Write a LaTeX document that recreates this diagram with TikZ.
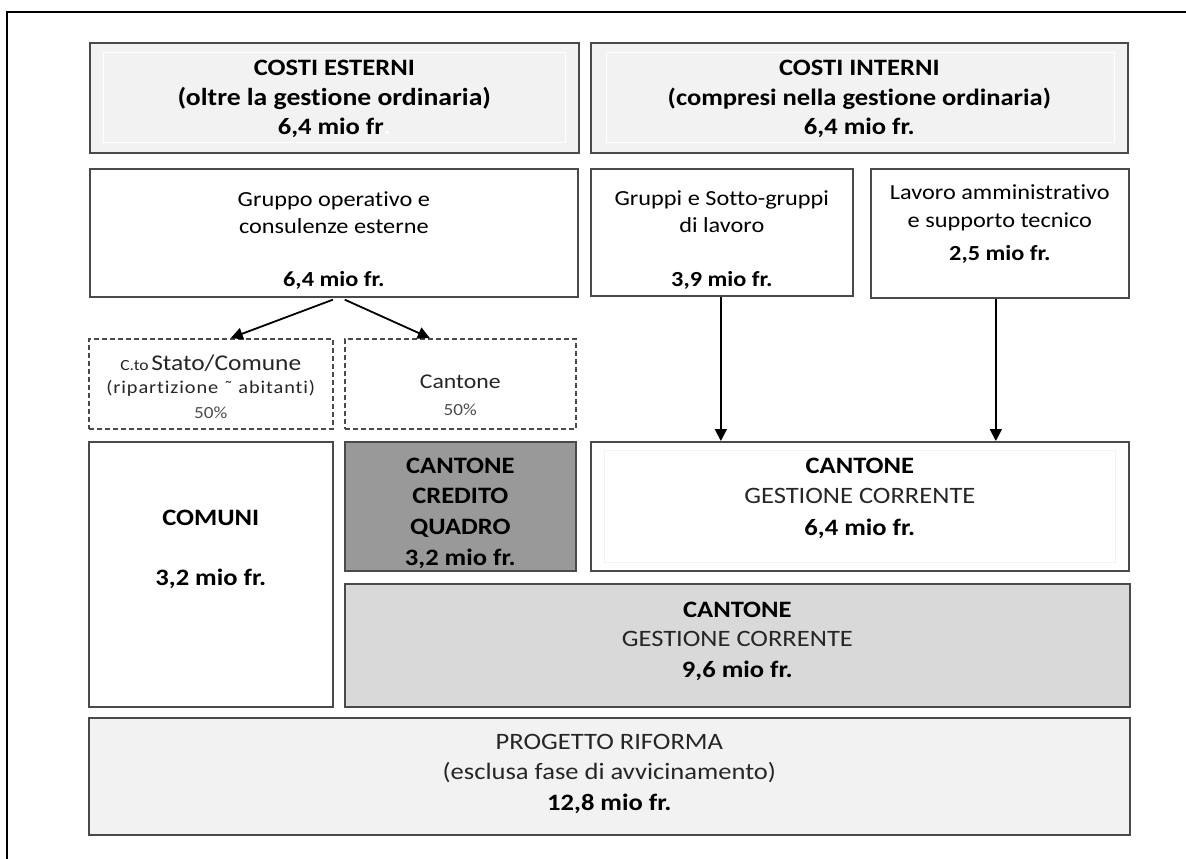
\documentclass[tikz,border=0pt]{standalone}
\usepackage{fontspec}
\setmainfont{Carlito}[FakeStretch=1.13, Ligatures=NoCommon]
\usetikzlibrary{arrows.meta}

\definecolor{edge}{HTML}{4A4A4A}
\definecolor{paleFill}{HTML}{F2F2F2}
\definecolor{midFill}{HTML}{D9D9D9}
\definecolor{darkFill}{HTML}{999999}
\definecolor{softText}{HTML}{262626}
\definecolor{greyText}{HTML}{4D4D4D}

\tikzset{
  box/.style={draw=edge, line width=1.7pt, anchor=north west, inner sep=0pt},
  dbox/.style={box, line width=1.6pt, dash pattern=on 5pt off 3pt},
  inset/.style={line width=1pt},
  tl/.style={anchor=base, inner sep=0pt, outer sep=0pt},
  hb/.style={tl, font=\fontsize{23.5}{28}\selectfont\bfseries},
  hr/.style={tl, font=\fontsize{23.5}{28}\selectfont, text=softText},
  mr/.style={tl, font=\fontsize{21.5}{26}\selectfont},
  mb/.style={tl, font=\fontsize{21.5}{26}\selectfont\bfseries},
  sr/.style={tl, font=\fontsize{17}{20}\selectfont, text=greyText},
  arr/.style={line width=1.8pt, -{Triangle[width=12pt,length=12pt]}},
}

\begin{document}
\begin{tikzpicture}[x=1pt,y=-1pt]
\useasboundingbox (0,0) rectangle (1186,859);

% open page frame
\draw[line width=2.2pt] (7,859) -- (7,12) -- (1186,12);

% ---- boxes ----
\node[box, fill=paleFill, minimum width=489pt, minimum height=110pt] (ce) at (89,42) {};
\node[box, fill=paleFill, minimum width=537pt, minimum height=110pt] (ci) at (590,42) {};
\node[box, fill=white, minimum width=488pt, minimum height=128pt] (gop) at (89,168) {};
\node[box, fill=white, minimum width=262pt, minimum height=127pt] (gs) at (590,168) {};
\node[box, fill=white, minimum width=258pt, minimum height=129pt] (la) at (870,168) {};
\node[dbox, fill=white, minimum width=244pt, minimum height=90pt] (cto) at (88,338) {};
\node[dbox, fill=white, minimum width=231pt, minimum height=90pt] (c50) at (344,338) {};
\node[box, fill=white, minimum width=244pt, minimum height=265pt] (com) at (88,441) {};
\node[box, fill=darkFill, minimum width=231pt, minimum height=129pt] (ccq) at (344,441) {};
\node[box, fill=white, minimum width=538pt, minimum height=129pt] (cg64) at (590,441) {};
\node[box, fill=midFill, minimum width=785pt, minimum height=123pt] (cg96) at (344,583) {};
\node[box, fill=paleFill, minimum width=1041pt, minimum height=117pt] (pr) at (88,717) {};

% faint inner frames
\draw[inset, white] ([shift={(14,11)}]ce.north west) rectangle ([shift={(-14,-11)}]ce.south east);
\draw[inset, white] ([shift={(16,11)}]ci.north west) rectangle ([shift={(-14,-11)}]ci.south east);
\draw[inset, draw=paleFill] ([shift={(14,9)}]cg64.north west) rectangle ([shift={(-14,-9)}]cg64.south east);

% ---- texts ----
\node[hb] (ce1) at (ce.center |- 0,75) {COSTI ESTERNI};
\node[hb, font=\fontsize{24.5}{28}\selectfont\bfseries] (ce2) at (ce.center |- 0,105) {(oltre la gestione ordinaria)};
\node[hb] (ce3) at (ce.center |- 0,134) {6,4 mio fr\textcolor{white}{.}};

\node[hb] (ci1) at (ci.center |- 0,75) {COSTI INTERNI};
\node[hb] (ci2) at (ci.center |- 0,105) {(compresi nella gestione ordinaria)};
\node[hb] (ci3) at (ci.center |- 0,134) {6,4 mio fr.};

\node[mr] (gop1) at (gop.center |- 0,206) {Gruppo operativo e};
\node[mr] (gop2) at (gop.center |- 0,233) {consulenze esterne};
\node[mb] (gop3) at (gop.center |- 0,286) {6,4 mio fr.};

\node[mr] (gs1) at (gs.center |- 0,205) {Gruppi e Sotto-gruppi};
\node[mr] (gs2) at (gs.center |- 0,232) {di lavoro};
\node[mb] (gs3) at (gs.center |- 0,286) {3,9 mio fr.};

\node[mr] (la1) at (la.center |- 0,199) {Lavoro amministrativo};
\node[mr] (la2) at (la.center |- 0,227) {e supporto tecnico};
\node[mb] (la3) at (la.center |- 0,260) {2,5 mio fr.};

\node[tl, text=softText] (cto1) at (cto.center |- 0,370)
  {{\fontsize{15.5}{18}\selectfont C.to} {\fontsize{22.5}{24}\selectfont Stato/Comune}};
\node[tl, text=softText, font=\fontsize{18}{21}\selectfont\addfontfeatures{LetterSpace=5}] (cto2)
  at (cto.center |- 0,393) {(ripartizione ˜ abitanti)};
\node[sr] (cto3) at (cto.center |- 0,418) {50\%};

\node[tl, text=softText, font=\fontsize{21}{24}\selectfont] (c501) at (c50.center |- 0,388) {Cantone};
\node[sr] (c502) at (c50.center |- 0,415) {50\%};

\node[hb] (com1) at (com.center |- 0,525) {COMUNI};
\node[hb] (com2) at (com.center |- 0,585) {3,2 mio fr.};

\node[hb] (ccq1) at (ccq.center |- 0,473) {CANTONE};
\node[hb] (ccq2) at (ccq.center |- 0,503) {CREDITO};
\node[hb] (ccq3) at (ccq.center |- 0,534) {QUADRO};
\node[hb] (ccq4) at (ccq.center |- 0,565) {3,2 mio fr.};

\node[hb] (cg641) at (cg64.center |- 0,473) {CANTONE};
\node[hr] (cg642) at (cg64.center |- 0,503) {GESTIONE CORRENTE};
\node[hb] (cg643) at (cg64.center |- 0,535) {6,4 mio fr.};

\node[hb] (cg961) at (cg96.center |- 0,617) {CANTONE};
\node[hr] (cg962) at (cg96.center |- 0,646) {GESTIONE CORRENTE};
\node[hb] (cg963) at (cg96.center |- 0,677) {9,6 mio fr.};

\node[hr] (pr1) at (pr.center |- 0,749) {PROGETTO RIFORMA};
\node[hr] (pr2) at (pr.center |- 0,779) {(esclusa fase di avvicinamento)};
\node[hb] (pr3) at (pr.center |- 0,810) {12,8 mio fr.};

% ---- connectors ----
\draw[arr] ([xshift=-1pt,yshift=-2pt]gop.south) -- ([xshift=20pt]cto.north);
\draw[arr] ([xshift=11pt,yshift=-2pt]gop.south) -- ([xshift=-30.5pt]c50.north);
\draw[arr] ([xshift=-1pt]gs.south) -- ([xshift=-1pt]gs.south |- cg64.north);
\draw[arr] ([xshift=-4pt]la.south) -- ([xshift=-4pt]la.south |- cg64.north);
\end{tikzpicture}
\end{document}
